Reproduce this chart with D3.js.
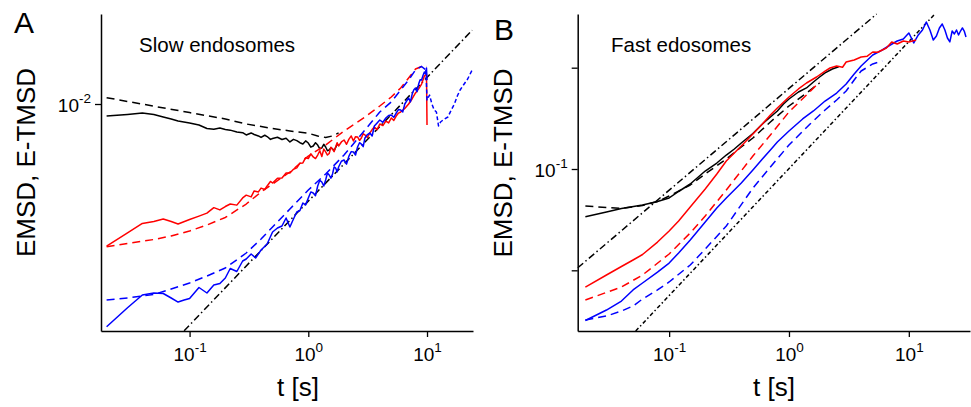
<!DOCTYPE html>
<html><head><meta charset="utf-8">
<script src="https://cdn.jsdelivr.net/npm/d3@7"></script>
<style>
body{margin:0;background:#fff}
svg{display:block}
text{font-family:Arial,"Liberation Sans",sans-serif}
</style></head>
<body><svg id="c" width="971" height="407"></svg>
<script>
// ---------- Panel A : Slow endosomes  [t (s), value] ----------
const slowBlackEMSD = [[0.02,0.00895],[0.03,0.00908],[0.04,0.00920],[0.05,0.00908],[0.06,0.00887],[0.07,0.00871],[0.08,0.00855],[0.1,0.00839],[0.12,0.00824],[0.14,0.00798],[0.16,0.00792],[0.18,0.00802],[0.2,0.00791],[0.22,0.00786],[0.25,0.00773],[0.28,0.00768],[0.3,0.00752],[0.33,0.00766],[0.35,0.00755],[0.38,0.00745],[0.4,0.00735],[0.43,0.00750],[0.45,0.00741],[0.48,0.00722],[0.5,0.00728],[0.55,0.00736],[0.6,0.00721],[0.65,0.00730],[0.7,0.00705],[0.75,0.00722],[0.8,0.00714],[0.85,0.00700],[0.9,0.00692],[0.95,0.00712],[1.0,0.00698],[1.05,0.00672],[1.1,0.00679],[1.15,0.00700],[1.2,0.00685],[1.25,0.00662],[1.3,0.00667],[1.35,0.00690],[1.4,0.00673],[1.45,0.00650],[1.5,0.00655],[1.55,0.00668],[1.6,0.00661],[1.65,0.00650],[1.7,0.00670],[1.75,0.00690],[1.8,0.00685]];
const slowBlackETMSD = [[0.02,0.01060],[0.05,0.00980],[0.1,0.00924],[0.2,0.00871],[0.3,0.00832],[0.5,0.00798],[0.7,0.00780],[1.0,0.00764],[1.2,0.00745],[1.4,0.00735],[1.6,0.00745],[1.8,0.00766]];
const slowRedEMSD = [[0.02,0.00270],[0.03,0.00305],[0.04,0.00333],[0.05,0.00339],[0.06,0.00347],[0.07,0.00339],[0.08,0.00331],[0.1,0.00345],[0.12,0.00356],[0.14,0.00366],[0.16,0.00385],[0.18,0.00377],[0.2,0.00389],[0.22,0.00398],[0.25,0.00394],[0.28,0.00421],[0.3,0.00432],[0.33,0.00425],[0.35,0.00449],[0.38,0.00445],[0.4,0.00461],[0.43,0.00455],[0.45,0.00470],[0.48,0.00490],[0.5,0.00483],[0.55,0.00505],[0.6,0.00506],[0.65,0.00530],[0.7,0.00530],[0.75,0.00548],[0.8,0.00555],[0.85,0.00580],[0.9,0.00581],[0.95,0.00610],[1.0,0.00605],[1.05,0.00632],[1.1,0.00614],[1.15,0.00605],[1.2,0.00625],[1.25,0.00650],[1.3,0.00617],[1.35,0.00660],[1.4,0.00643],[1.45,0.00625],[1.5,0.00634],[1.55,0.00672],[1.6,0.00661],[1.65,0.00645],[1.7,0.00673],[1.75,0.00700],[1.8,0.00679],[1.9,0.00705],[2.0,0.00718],[2.1,0.00690],[2.2,0.00724],[2.3,0.00745],[2.4,0.00711],[2.5,0.00740],[2.6,0.00738],[2.7,0.00715],[2.8,0.00731],[2.9,0.00760],[3.0,0.00752],[3.15,0.00735],[3.3,0.00766],[3.45,0.00790],[3.6,0.00809],[3.8,0.00790],[4.0,0.00832],[4.25,0.00820],[4.5,0.00855],[4.75,0.00840],[5,0.00879],[5.25,0.00860],[5.5,0.00895],[5.75,0.00920],[6,0.00929],[6.5,0.00960],[7,0.0100],[7.5,0.01050],[8,0.01107],[8.5,0.01150],[9,0.01202],[9.5,0.01294],[9.9,0.01318],[10,0.00824]];
const slowRedETMSD = [[0.02,0.002685],[0.03,0.002767],[0.05,0.002871],[0.07,0.002965],[0.1,0.003105],[0.14,0.003281],[0.2,0.003516],[0.3,0.003981],[0.4,0.004446],[0.5,0.004786],[0.7,0.005346],[1.0,0.006194],[1.4,0.006855],[2.0,0.007798],[3.0,0.008872],[4.0,0.009817],[5,0.01067],[6,0.01159],[7,0.01271],[8,0.01380],[9,0.01413],[10,0.01413]];
const slowBlueEMSD = [[0.02,0.001285],[0.03,0.001531],[0.04,0.001722],[0.05,0.001754],[0.06,0.001746],[0.07,0.001675],[0.08,0.001614],[0.09,0.001644],[0.1,0.001667],[0.12,0.001845],[0.14,0.001754],[0.16,0.001888],[0.18,0.001914],[0.2,0.002014],[0.22,0.002198],[0.25,0.002138],[0.28,0.002355],[0.3,0.002399],[0.33,0.002512],[0.36,0.002421],[0.4,0.002606],[0.45,0.002754],[0.5,0.003076],[0.55,0.003192],[0.6,0.003251],[0.65,0.003499],[0.7,0.003221],[0.75,0.003467],[0.8,0.003698],[0.85,0.003750],[0.9,0.004018],[0.95,0.003950],[1.0,0.004207],[1.05,0.004450],[1.1,0.004406],[1.15,0.004300],[1.2,0.004699],[1.25,0.004950],[1.3,0.004875],[1.35,0.004700],[1.4,0.004966],[1.45,0.005300],[1.5,0.005200],[1.55,0.005050],[1.6,0.005248],[1.65,0.005600],[1.7,0.005546],[1.75,0.005350],[1.8,0.005598],[1.9,0.005900],[2.0,0.005970],[2.1,0.005750],[2.2,0.006194],[2.3,0.006450],[2.4,0.006427],[2.5,0.006250],[2.6,0.006730],[2.7,0.007000],[2.8,0.006918],[2.9,0.006750],[3.0,0.007311],[3.15,0.007550],[3.3,0.007656],[3.45,0.007450],[3.6,0.008166],[3.8,0.008400],[4.0,0.008630],[4.25,0.008450],[4.5,0.008790],[4.75,0.009000],[5,0.009036],[5.25,0.008850],[5.5,0.009204],[5.75,0.009500],[6,0.009462],[6.25,0.009300],[6.5,0.0100],[6.75,0.01030],[7,0.01057],[7.25,0.01020],[7.5,0.01096],[7.75,0.01140],[8,0.01159],[8.25,0.01120],[8.5,0.01202],[8.75,0.01250],[9,0.01247],[9.25,0.01300],[9.5,0.01343],[9.7,0.01320],[9.9,0.01393],[10,0.01247]];
const slowBlueETMSD = [[0.02,0.001644],[0.03,0.001675],[0.05,0.001730],[0.07,0.001820],[0.1,0.001923],[0.14,0.002051],[0.2,0.002208],[0.3,0.002535],[0.4,0.002884],[0.5,0.003221],[0.7,0.003802],[1.0,0.004529],[1.4,0.005248],[2.0,0.006252],[3.0,0.007870],[4.0,0.009290],[5,0.01019],[6,0.01138],[7,0.01247],[8,0.01368],[9,0.01413],[9.8,0.01368]];
const slowBlueLongLag = [[9.8,0.01368],[10,0.01038],[10.5,0.01086],[11,0.0100],[11.5,0.00946],[12,0.00929],[12.5,0.00817],[13,0.00847],[14,0.00871],[15,0.00887],[16,0.00946],[17,0.0100],[18,0.01076],[19,0.01138],[20,0.01180],[22,0.01259],[24,0.01368]];
const slowPowerLaw = [[0.09,0.001239],[24,0.01972]];

// ---------- Panel B : Fast endosomes ----------
const fastBlackEMSD = [[0.02,0.03381],[0.03,0.0376],[0.04,0.04074],[0.06,0.04413],[0.08,0.04775],[0.1,0.05176],[0.12,0.05998],[0.15,0.07112],[0.2,0.09550],[0.25,0.1146],[0.3,0.1374],[0.35,0.1575],[0.4,0.1806],[0.45,0.2023],[0.5,0.2239],[0.6,0.2780],[0.7,0.3258],[0.8,0.3741],[0.9,0.4385],[1.0,0.4909],[1.2,0.5754],[1.4,0.6310],[1.6,0.7228],[1.8,0.8091],[2.0,0.8872],[2.3,0.9700],[2.6,1.020]];
const fastBlackETMSD = [[0.02,0.04315],[0.03,0.04169],[0.04,0.04074],[0.06,0.04365],[0.08,0.04775],[0.1,0.05408],[0.15,0.06950],[0.2,0.08931],[0.3,0.1256],[0.4,0.1648],[0.5,0.2023],[0.7,0.2911],[1.0,0.4188],[1.4,0.5623],[1.8,0.7063]];
const fastRedEMSD = [[0.02,0.006839],[0.03,0.008995],[0.04,0.01091],[0.05,0.01265],[0.06,0.01432],[0.08,0.01901],[0.1,0.02443],[0.12,0.03069],[0.15,0.04217],[0.2,0.06353],[0.25,0.08931],[0.3,0.1199],[0.4,0.1687],[0.5,0.2218],[0.6,0.2780],[0.7,0.3412],[0.8,0.4000],[1.0,0.5140],[1.2,0.6166],[1.4,0.7063],[1.7,0.8091],[2.0,0.9268],[2.2,0.9931],[2.5,1.040],[2.8,1.010],[3,1.138],[3.5,1.191],[4,1.275],[4.5,1.300],[5,1.429],[5.5,1.420],[6.5,1.565],[7.2,1.794],[8,1.714],[9,1.835],[10,1.794],[11.5,1.877]];
const fastRedETMSD = [[0.02,0.005093],[0.04,0.006839],[0.06,0.008995],[0.1,0.01449],[0.15,0.02335],[0.2,0.03436],[0.3,0.06209],[0.5,0.1343],[0.7,0.2168],[1.0,0.3656],[1.4,0.5375],[1.8,0.7228]];
const fastBlueEMSD = [[0.02,0.003194],[0.03,0.004055],[0.04,0.004977],[0.05,0.006397],[0.06,0.007499],[0.08,0.009617],[0.1,0.01180],[0.12,0.01483],[0.15,0.01991],[0.2,0.02999],[0.25,0.04121],[0.3,0.05176],[0.4,0.07278],[0.5,0.09775],[0.6,0.1256],[0.7,0.1541],[0.8,0.1849],[1.0,0.2371],[1.3,0.3119],[1.6,0.3741],[2.0,0.4688],[2.5,0.5623],[3,0.6902],[3.5,0.8670],[4,1.039],[5,1.335],[6,1.495],[7,1.675],[8,1.835],[9,1.920],[10,2.203],[10.5,1.964],[11,1.754],[12,2.104],[13,2.355],[14,2.825],[15,2.355],[16,1.875],[17,2.056],[18,2.466],[19,2.700],[20,2.355],[21,1.964],[22,1.795],[23,2.301],[24,2.153],[25,2.355],[26,2.104],[27,2.301],[28,2.466],[29,2.301],[30,2.009]];
const fastBlueETMSD = [[0.02,0.003231],[0.03,0.003540],[0.04,0.003963],[0.05,0.004443],[0.06,0.005212],[0.08,0.006397],[0.1,0.007674],[0.15,0.01128],[0.2,0.01622],[0.3,0.02735],[0.5,0.06486],[0.7,0.1047],[1.0,0.1726],[1.5,0.2780],[2,0.3824],[2.5,0.4799],[3,0.5888],[3.5,0.7560],[4,0.9276],[5,1.088],[6,1.164]];
const fastLinearFit = [[0.0173,0.0106],[5.39,3.388]];
const fastSuperFit = [[0.0526,0.002518],[16.5,3.388]];

// ---------- tick values / labels ----------
const xTicks = [0.1, 1, 10];
const slowYTicks = [0.01];
const fastYTicks = [0.01, 0.1, 1];
const fastYLabelled = [0.1];
const titles = ["Slow endosomes", "Fast edosomes"];
const panelLetters = ["A", "B"];
const yLabel = "EMSD, E-TMSD";
const xLabel = "t [s]";

const svg = d3.select("#c");

const panels = [
  {x: d3.scaleLog().domain([0.01794, 24.4]).range([101, 473]),
   y: d3.scaleLog().domain([0.001236, 0.02291]).range([331, 14]),
   yTicks: slowYTicks, yLab: slowYTicks, title: titles[0], letter: panelLetters[0],
   letterPos: [14, 33], titlePos: [139, 52], yLabPos: [35, 162.5], xLabX: 298,
   series: [
     {d: slowPowerLaw, c: "#000", dash: "7,3,1.5,3"},
     {d: slowBlackETMSD, c: "#000", dash: "8,5"},
     {d: slowBlackEMSD, c: "#000", dash: null},
     {d: slowRedETMSD, c: "#ff0000", dash: "8,5"},
     {d: slowRedEMSD, c: "#ff0000", dash: null},
     {d: slowBlueETMSD, c: "#0000ff", dash: "8,5"},
     {d: slowBlueLongLag, c: "#0000ff", dash: "4,2.5"},
     {d: slowBlueEMSD, c: "#0000ff", dash: null}
   ]},
  {x: d3.scaleLog().domain([0.01726, 32.4]).range([577.7, 970]),
   y: d3.scaleLog().domain([0.002518, 3.388]).range([331, 14]),
   yTicks: fastYTicks, yLab: fastYLabelled, title: titles[1], letter: panelLetters[1],
   letterPos: [494, 40], titlePos: [611, 52], yLabPos: [511.5, 163], xLabX: 774,
   series: [
     {d: fastLinearFit, c: "#000", dash: "7,3,1.5,3"},
     {d: fastSuperFit, c: "#000", dash: "4,2.5,1.5,2.5"},
     {d: fastBlackETMSD, c: "#000", dash: "8,5"},
     {d: fastBlackEMSD, c: "#000", dash: null},
     {d: fastRedETMSD, c: "#ff0000", dash: "8,5"},
     {d: fastBlueETMSD, c: "#0000ff", dash: "8,5"},
     {d: fastBlueEMSD, c: "#0000ff", dash: null},
     {d: fastRedEMSD, c: "#ff0000", dash: null}
   ]}
];

function supLabel(sel, d, show) {
  sel.text(null);
  if (!show) return;
  sel.append("tspan").text("10");
  sel.append("tspan").attr("dy", -9).attr("font-size", 13.5).text(String(Math.round(Math.log10(d))));
}

panels.forEach(p => {
  const g = svg.append("g");
  const [x0, x1] = p.x.range();
  const [yb, yt] = p.y.range();

  // data lines
  const line = d3.line().x(d => p.x(d[0])).y(d => p.y(d[1]));
  p.series.forEach(s => {
    g.append("path").datum(s.d).attr("d", line)
      .attr("fill", "none").attr("stroke", s.c).attr("stroke-width", 1.5)
      .attr("stroke-linejoin", "round")
      .attr("stroke-dasharray", s.dash);
  });

  // x axis
  const xa = g.append("g").attr("transform", `translate(0,${yb})`)
    .call(d3.axisBottom(p.x).tickValues(xTicks).tickSize(6).tickSizeOuter(0).tickPadding(4));
  xa.select(".domain").attr("stroke-width", 1.5);
  xa.selectAll(".tick line").attr("stroke-width", 1.3);
  xa.selectAll(".tick text").attr("font-size", 19).attr("font-family", "Arial, 'Liberation Sans', sans-serif")
    .attr("fill", "#000").attr("y", 17).attr("dy", "0.71em")
    .each(function(d){ supLabel(d3.select(this), d, true); });

  // y axis
  const ya = g.append("g").attr("transform", `translate(${x0},0)`)
    .call(d3.axisLeft(p.y).tickValues(p.yTicks).tickSize(6).tickSizeOuter(0).tickPadding(5));
  ya.select(".domain").attr("stroke-width", 1.5);
  ya.selectAll(".tick line").attr("stroke-width", 1.3);
  ya.selectAll(".tick text").attr("font-size", 19).attr("font-family", "Arial, 'Liberation Sans', sans-serif")
    .attr("fill", "#000").attr("x", -10).attr("dy", "0.42em")
    .each(function(d){ supLabel(d3.select(this), d, p.yLab.includes(d)); });

  // panel letter
  svg.append("text").attr("x", p.letterPos[0]).attr("y", p.letterPos[1])
    .attr("font-size", 30).text(p.letter);
  // title
  svg.append("text").attr("x", p.titlePos[0]).attr("y", p.titlePos[1])
    .attr("font-size", 20.5).text(p.title);
  // y label
  svg.append("text").attr("transform", `translate(${p.yLabPos[0]},${p.yLabPos[1]}) rotate(-90)`)
    .attr("text-anchor", "middle").attr("font-size", 26).text(yLabel);
  // x label
  svg.append("text").attr("x", p.xLabX).attr("y", 396)
    .attr("text-anchor", "middle").attr("font-size", 26).text(xLabel);
});
</script></body></html>
